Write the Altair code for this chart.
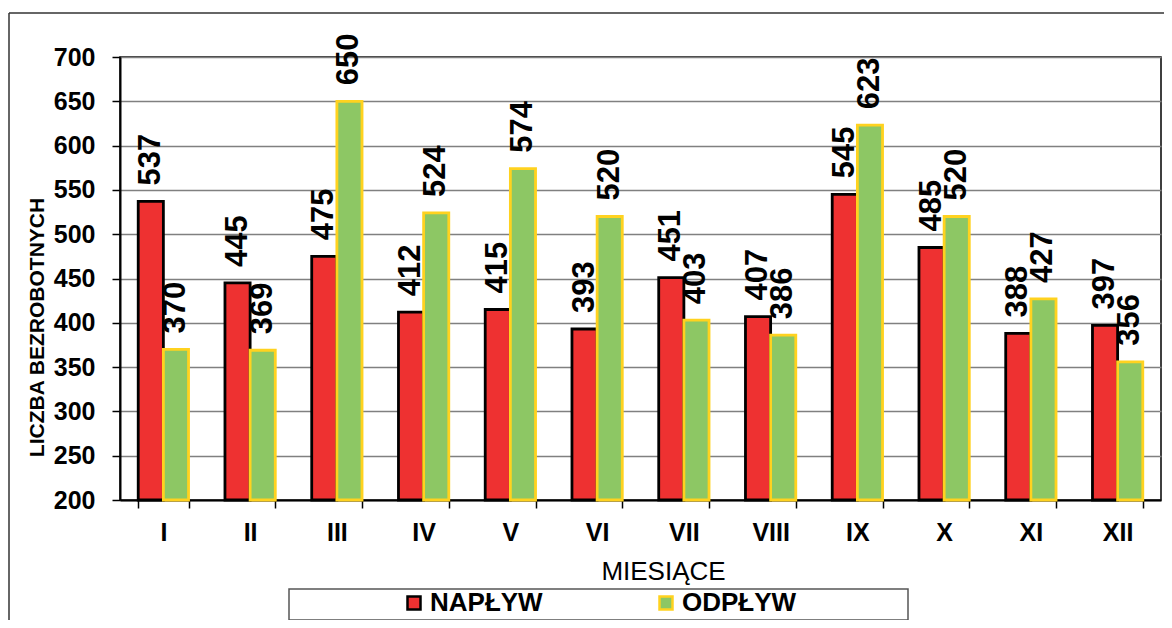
import altair as alt
import pandas as pd

months = ["I", "II", "III", "IV", "V", "VI", "VII", "VIII", "IX", "X", "XI", "XII"]
naplyw = [537, 445, 475, 412, 415, 393, 451, 407, 545, 485, 388, 397]
odplyw = [370, 369, 650, 524, 574, 520, 403, 386, 623, 520, 427, 356]
series = ["NAPŁYW", "ODPŁYW"]
fill_colors = ["#EE3131", "#8DC764"]
stroke_colors = ["#000000", "#FFD21F"]
y_ticks = list(range(200, 701, 50))

rows = []
for m, a, b in zip(months, naplyw, odplyw):
    rows.append({"miesiac": m, "seria": series[0], "wartosc": a})
    rows.append({"miesiac": m, "seria": series[1], "wartosc": b})
df = pd.DataFrame(rows)

W, H = 1041, 443
FONT = "Liberation Sans"

leg = alt.Legend(
    title=None, orient="none", legendX=281, legendY=533, direction="horizontal",
    labelFont=FONT, labelFontSize=26, labelFontWeight="bold", labelColor="black",
    symbolType="square", symbolSize=169, symbolStrokeWidth=2.5, labelOffset=3,
    columnPadding=110, padding=0, labelLimit=300,
)

x_enc = alt.X(
    "miesiac:N", sort=months,
    scale=alt.Scale(paddingInner=0.42, paddingOuter=0.21),
    axis=alt.Axis(
        title="MIESIĄCE", tickBand="extent", labelAngle=0, grid=False,
        labelFont=FONT, labelFontSize=25, labelFontWeight="bold", labelColor="black",
        labelPadding=12, labelBaseline="top",
        tickSize=8, tickColor="black", tickWidth=1.5,
        domainColor="black", domainWidth=2,
        titleFont=FONT, titleFontSize=26, titleFontWeight="normal", titleColor="black",
        titleX=543, titleY=79, titleBaseline="alphabetic", titleAlign="center",
    ),
)
y_enc = alt.Y(
    "wartosc:Q",
    scale=alt.Scale(domain=[200, 700], nice=False, zero=False),
    axis=alt.Axis(
        values=y_ticks, grid=True, gridColor="#808080", gridWidth=1.5,
        labelFont=FONT, labelFontSize=25, labelFontWeight="bold", labelColor="black",
        labelPadding=17, tickSize=8, tickColor="black", tickWidth=1.5,
        domainColor="black", domainWidth=2,
        title="LICZBA BEZROBOTNYCH", titleFont=FONT, titleFontSize=21,
        titleFontWeight="bold", titleColor="black", titleAngle=270,
        titleX=-77, titleY=270, titleAlign="center", titleBaseline="alphabetic",
    ),
)

base = alt.Chart(df)

bars = base.mark_bar(strokeWidth=2.8).encode(
    x=x_enc,
    xOffset=alt.XOffset("seria:N", sort=series, scale=alt.Scale(paddingInner=0, paddingOuter=0)),
    y=y_enc,
    y2=alt.datum(200),
    fill=alt.Fill("seria:N", sort=series,
                  scale=alt.Scale(domain=series, range=fill_colors), legend=leg),
    stroke=alt.Stroke("seria:N", sort=series,
                      scale=alt.Scale(domain=series, range=stroke_colors), legend=leg),
)

labels = base.mark_text(
    angle=270, align="left", baseline="middle", dx=16,
    font="Liberation Sans Narrow, Liberation Sans", fontSize=31, fontWeight="bold", color="black",
).encode(
    x=alt.X("miesiac:N", sort=months),
    xOffset=alt.XOffset("seria:N", sort=series),
    y=alt.Y("wartosc:Q"),
    text=alt.Text("wartosc:Q"),
)

one = alt.Data(values=[{"k": 1}])
border_left = alt.Chart(one).mark_rule(color="#333333", strokeWidth=1.5).encode(
    x=alt.value(-111), y=alt.value(-44), y2=alt.value(700)
)
border_top = alt.Chart(one).mark_rule(color="#333333", strokeWidth=1.5).encode(
    x=alt.value(-111), x2=alt.value(1200), y=alt.value(-44)
)
legend_box = alt.Chart(one).mark_rect(fill="white", stroke="#555555", strokeWidth=1.5).encode(
    x=alt.value(169), x2=alt.value(788), y=alt.value(532), y2=alt.value(563)
)

chart = alt.layer(border_left, border_top, legend_box, bars, labels).properties(
    width=W, height=H,
    autosize=alt.AutoSizeParams(type="none"),
    padding={"left": 112, "top": 49, "right": 3, "bottom": 120},
    background="white",
).configure_view(
    stroke="black", strokeWidth=1.5
)

chart.save("out.html", embed_options={"renderer": "svg", "actions": False})
